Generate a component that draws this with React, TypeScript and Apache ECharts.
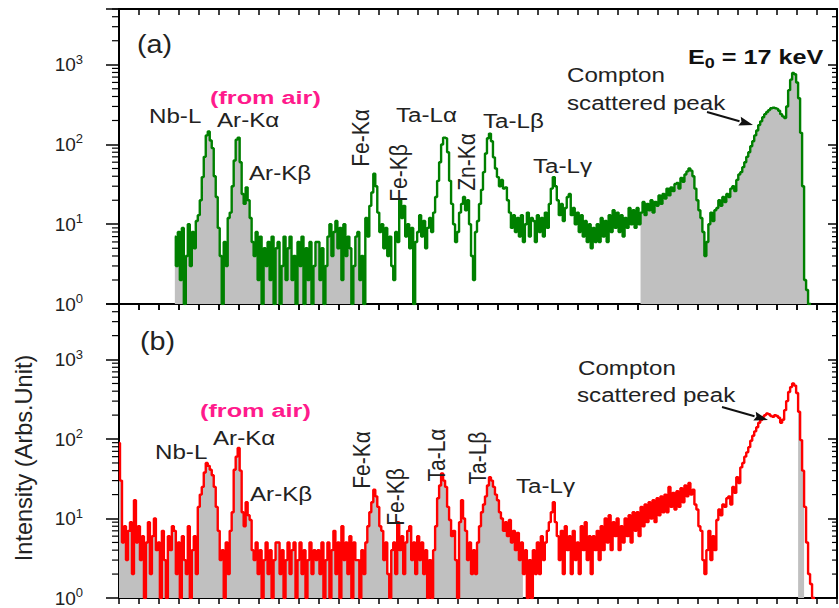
import React, { useEffect, useRef } from 'react';
import * as echarts from 'echarts';

// ---------- data (counts, 0.05 keV channels) ----------
const CHANNEL_KEV = 0.05;
const greenStartKeV = 1.4; // panel (a) spectrum starts here
const greenCounts = [
  7, 3, 8, 2, 9, 1, 4, 10, 3, 8, 5, 11,
  13, 20, 39, 70, 130, 146, 112, 90, 40, 22, 9, 4, 1, 6, 3, 12, 14, 30, 63, 115,
  122, 60, 24, 18, 29, 20, 12, 6, 4, 8, 2, 7, 1, 5, 3, 6, 2, 7, 1, 5,
  6, 1, 3, 7, 2, 5, 7, 2, 4, 1, 6, 3, 7, 1, 5, 2, 6, 1, 3, 6,
  6, 2, 5, 1, 3, 7, 10, 4, 8, 11, 5, 9, 2, 10, 4, 7, 5, 1, 3, 7,
  8, 2, 4, 1, 12, 7, 17, 25, 43, 30, 14, 8, 10, 5, 9, 4, 7, 3, 2, 8,
  6, 20, 12, 17, 7, 10, 5, 9, 1, 6, 8, 13, 7, 11, 5, 9, 12, 8, 14, 22,
  35, 60, 100, 122, 120, 80, 35, 18, 10, 6, 8, 14, 18, 22, 15, 20, 10, 4, 2, 8,
  11, 18, 27, 45, 77, 120, 137, 110, 69, 50, 39, 30, 36, 28, 29, 20, 14, 9, 13, 8,
  12, 7, 13, 6, 10, 14, 7, 12, 11, 6, 13, 8, 12, 7, 14, 9, 18, 28, 39, 30,
  20, 13, 18, 11, 16, 22, 24, 13, 16, 10, 14, 8, 13, 7, 11, 6, 10, 5, 9, 6,
  10, 6, 12, 7, 11, 6, 13, 8, 15, 9, 14, 8, 13, 7, 12, 9, 16, 10, 15, 9,
  16, 10, 14, 19, 13, 18, 15, 20, 14, 19, 17, 23, 18, 24, 21, 28, 23, 29, 26, 32,
  33, 28, 38, 34, 42, 46, 50, 47, 40, 28, 20, 15, 12, 8, 4, 6, 10, 14, 11, 15,
  16, 20, 17, 22, 19, 24, 22, 28, 30, 26, 36, 42, 45, 52, 60, 70, 80, 95, 110, 130,
  150, 175, 195, 220, 240, 255, 270, 285, 290, 285, 280, 265, 240, 225, 215, 300, 480, 650, 790, 760,
  600, 380, 140, 30, 2, 1.5, 1, 1,
];
// grey shading ranges (keV) under the green spectrum
const greyRangesA = [[1.4, 6.1], [13.1, 17.35]];

const redStartKeV = 0;
const redCounts = [
  89, 30, 5, 8, 3, 7, 9, 2, 17, 5, 8, 3, 6, 1, 5, 9, 2, 6, 10, 4,
  5, 1, 7, 3, 1, 6, 4, 8, 7, 2, 5, 1, 6, 3, 2, 8, 1, 4, 6, 2,
  14, 20, 25, 38, 50, 46, 41, 35, 25, 14, 7, 3, 4, 1, 5, 2, 7, 12, 41, 60,
  77, 40, 12, 8, 16, 11, 9.6, 4, 3, 5, 2, 4, 1, 3, 5, 2, 4, 1, 3, 5,
  5, 2, 4, 1, 3, 5, 2, 4, 5, 1, 3, 5, 2, 4, 1, 3, 5, 2, 4, 3,
  4, 2, 5, 1, 3, 5, 1, 4, 7, 2, 5, 1, 8, 3, 5, 2, 6, 1, 5, 3,
  3, 1, 4, 2, 5, 8, 12, 16, 23, 19, 14, 8, 7, 3, 5, 2, 1, 4, 5, 2,
  9, 4, 6, 2, 5, 7, 8, 3, 5, 2, 6, 3, 5, 2, 4, 1, 3, 1, 4, 8,
  18, 26, 37, 30, 25, 14, 9.6, 6, 7, 3, 1, 9, 17, 10, 7, 3, 5, 2, 4, 2,
  5, 8, 12, 15, 19, 26, 33, 30, 25, 20, 17, 12, 10, 7, 9, 6, 9.6, 5, 7, 4,
  6.6, 3, 5, 2, 4, 1, 3, 1, 4, 2, 5, 2, 6, 3, 5, 7, 9, 12, 16, 9,
  6, 3, 7, 2, 8, 4, 6, 2, 7, 3, 5, 2, 8, 4, 9, 3, 6, 2, 6, 4,
  7, 3, 8, 4, 10, 5, 11, 4, 9, 6, 10, 4, 8, 5, 10, 6, 11, 5, 12, 7,
  12, 6, 14, 8, 15, 9, 16, 10, 17, 9, 18, 11, 19, 12, 20, 12, 25, 14, 21, 13,
  22, 14, 24, 16, 26, 19, 28, 20, 23, 15, 13, 8, 7, 3, 2, 4, 7, 3, 6, 4,
  9.6, 13, 11, 15, 14, 18, 19, 15, 25, 21, 33, 28, 44, 50, 60, 68, 79, 95, 110, 125,
  141, 160, 173, 190, 200, 210, 205, 195, 190, 200, 195, 185, 160, 175, 231, 300, 390, 450, 500, 470,
  380, 220, 97, 40, 14, 5, 2, 1.5, 1, 1,
];
const greyRangesB = [[0, 10.1], [17.05, 17.15]];

const X_MIN = 0;
const X_MAX = 18;
const Y_MIN = 1;
const Y_MAX = 5000;
const yDecades = [1, 10, 100, 1000];

// ---------- helpers ----------
const FONT = '"Liberation Sans", Arial, Helvetica, sans-serif';
const keV = (start: number, i: number) => Math.round((start + i * CHANNEL_KEV) * 1000) / 1000;
const toPairs = (start: number, counts: number[]) => counts.map((c, i) => [keV(start, i), c]);
const maskPairs = (start: number, counts: number[], ranges: number[][]) =>
  counts.map((c, i) => {
    const e = keV(start, i);
    const inside = ranges.some(([a, b]) => e >= a - 1e-6 && e <= b + 1e-6);
    return [e, inside ? c : null];
  });
const minorTickValues = yDecades
  .flatMap((d) => [2, 3, 4, 5, 6, 7, 8, 9].map((k) => k * d))
  .filter((v) => v <= Y_MAX);

const yLabelFormatter = (v: number) => {
  const l = Math.log10(v);
  const e = Math.round(l);
  if (Math.abs(l - e) > 1e-6 || !yDecades.includes(Math.pow(10, e))) return '';
  return `{b|10}{s|${e}}`;
};

const mkX = (gridIndex: number, position: string, inside: boolean) => ({
  type: 'value',
  gridIndex,
  position,
  min: X_MIN,
  max: X_MAX,
  interval: 0.5,
  axisLine: { show: true, onZero: false, lineStyle: { color: '#000', width: 2 } },
  axisTick: { show: true, inside, length: 6, lineStyle: { color: '#000', width: 1.5 } },
  axisLabel: { show: false },
  splitLine: { show: false },
});

const mkY = (gridIndex: number, position: string) => ({
  type: 'log',
  logBase: 10,
  gridIndex,
  position,
  min: Y_MIN,
  max: Y_MAX,
  axisLine: { show: true, onZero: false, lineStyle: { color: '#000', width: 2 } },
  axisTick: {
    show: true,
    inside: position === 'right',
    length: position === 'right' ? 9 : 13,
    lineStyle: { color: '#000', width: 1.5 },
  },
  axisLabel:
    position === 'left'
      ? {
          show: true,
          margin: 36,
          formatter: yLabelFormatter,
          rich: {
            b: { fontSize: 19, fontFamily: FONT, color: '#222' },
            s: { fontSize: 13, fontFamily: FONT, color: '#222', padding: [0, 0, 11, 0] },
          },
        }
      : { show: false },
  splitLine: { show: false },
});

const minorTickSeries = (gridIdx: number) => ({
  type: 'custom',
  xAxisIndex: gridIdx * 2,
  yAxisIndex: gridIdx * 2,
  silent: true,
  clip: false,
  z: 10,
  data: minorTickValues.map((v) => [X_MIN, v]),
  renderItem: (_p: any, api: any) => {
    const v = api.value(1);
    const pL = api.coord([X_MIN, v]);
    const pR = api.coord([X_MAX, v]);
    return {
      type: 'group',
      children: [
        { type: 'line', shape: { x1: pL[0] - 7, y1: pL[1], x2: pL[0], y2: pL[1] }, style: { stroke: '#000', lineWidth: 1.2 } },
        { type: 'line', shape: { x1: pR[0] - 5, y1: pR[1], x2: pR[0], y2: pR[1] }, style: { stroke: '#000', lineWidth: 1.2 } },
      ],
    };
  },
});

const spectrumSeries = (gridIdx: number, start: number, counts: number[], ranges: number[][], color: string) => [
  {
    type: 'line',
    xAxisIndex: gridIdx * 2,
    yAxisIndex: gridIdx * 2,
    step: 'middle',
    symbol: 'none',
    silent: true,
    z: 2,
    lineStyle: { width: 0, color: '#c0c0c0' },
    areaStyle: { color: '#c0c0c0', opacity: 1, origin: 'start' },
    data: maskPairs(start, counts, ranges),
  },
  {
    type: 'line',
    xAxisIndex: gridIdx * 2,
    yAxisIndex: gridIdx * 2,
    step: 'middle',
    symbol: 'none',
    silent: true,
    z: 3,
    lineStyle: { width: 2.4, color },
    data: toPairs(start, counts),
  },
];

type LOpts = { rot?: boolean; size?: number; bold?: boolean; color?: string; stretch?: number };
const label = (text: string, x: number, y: number, o: LOpts = {}) => {
  const st = o.stretch || 1.15;
  return {
    type: 'text',
    x,
    y,
    z: 100,
    rotation: o.rot ? Math.PI / 2 : 0,
    scaleX: o.rot ? 1 : st,
    scaleY: o.rot ? st : 1,
    style: {
      text,
      fontSize: o.size || 21,
      fontFamily: FONT,
      fontWeight: o.bold ? 'bold' : 'normal',
      fill: o.color || '#222',
      align: o.rot ? 'center' : 'left',
      textAlign: o.rot ? 'center' : 'left',
      verticalAlign: 'middle',
      textVerticalAlign: 'middle',
    },
  };
};

const arrow = (x1: number, y1: number, x2: number, y2: number) => {
  const dx = x2 - x1;
  const dy = y2 - y1;
  const len = Math.hypot(dx, dy);
  const ux = dx / len;
  const uy = dy / len;
  const nx = -uy;
  const ny = ux;
  const bx = x2 - 14 * ux;
  const by = y2 - 14 * uy;
  return [
    { type: 'line', z: 100, shape: { x1, y1, x2: bx, y2: by }, style: { stroke: '#111', lineWidth: 2 } },
    {
      type: 'polygon',
      z: 100,
      shape: { points: [[x2, y2], [bx + 4.5 * nx, by + 4.5 * ny], [bx + 2 * ux, by + 2 * uy], [bx - 4.5 * nx, by - 4.5 * ny]] },
      style: { fill: '#111' },
    },
  ];
};

const MAGENTA = '#ff1a8c';

export default function App() {
  const ref = useRef<HTMLDivElement>(null);
  useEffect(() => {
    if (!ref.current) return;
    const chart = echarts.init(ref.current, null, { renderer: 'svg' });
    const option: any = {
      animation: false,
      backgroundColor: '#fff',
      grid: [
        { left: 119, top: 9, width: 718, height: 295 },
        { left: 119, top: 304, width: 718, height: 294 },
      ],
      xAxis: [mkX(0, 'bottom', false), mkX(0, 'top', true), mkX(1, 'bottom', false), mkX(1, 'top', true)],
      yAxis: [mkY(0, 'left'), mkY(0, 'right'), mkY(1, 'left'), mkY(1, 'right')],
      series: [
        ...spectrumSeries(0, greenStartKeV, greenCounts, greyRangesA, '#008000'),
        ...spectrumSeries(1, redStartKeV, redCounts, greyRangesB, '#ff0000'),
        minorTickSeries(0),
        minorTickSeries(1),
      ],
      graphic: [
        // y-axis name
        {
          type: 'text',
          x: 24,
          y: 458,
          rotation: Math.PI / 2,
          scaleX: 1.12,
          scaleY: 1.12,
          z: 100,
          style: {
            text: 'Intensity (Arbs.Unit)',
            fontSize: 21,
            fontFamily: FONT,
            fill: '#222',
            align: 'center',
            textAlign: 'center',
            verticalAlign: 'middle',
            textVerticalAlign: 'middle',
          },
        },
        // panel (a)
        label('(a)', 137, 45, { size: 25 }),
        label('(from air)', 210, 98, { size: 19, bold: true, color: MAGENTA, stretch: 1.33 }),
        label('Nb-L', 149, 116),
        label('Ar-K\u03b1', 217, 120),
        label('Ar-K\u03b2', 249, 173),
        label('Fe-K\u03b1', 361, 138, { rot: true }),
        label('Fe-K\u03b2', 399, 173, { rot: true }),
        label('Ta-L\u03b1', 396, 115),
        label('Zn-K\u03b1', 467, 162, { rot: true }),
        label('Ta-L\u03b2', 483, 121),
        label('Ta-L\u03b3', 533, 166),
        label('Compton', 567, 75),
        label('scattered peak', 567, 103),
        ...arrow(707, 112, 753, 125),
        {
          type: 'text',
          x: 688,
          y: 57,
          z: 100,
          scaleX: 1.2,
          style: {
            text: '{m|E}{s|0}{m| = 17 keV}',
            fontFamily: FONT,
            fill: '#111',
            align: 'left',
            textAlign: 'left',
            verticalAlign: 'middle',
            textVerticalAlign: 'middle',
            rich: {
              m: { fontSize: 21, fontWeight: 'bold', fontFamily: FONT, fill: '#111', color: '#111' },
              s: { fontSize: 15, fontWeight: 'bold', fontFamily: FONT, fill: '#111', color: '#111', padding: [12, 0, 0, 0] },
            },
          },
        },
        // panel (b)
        label('(b)', 140, 342, { size: 25 }),
        label('(from air)', 200, 411, { size: 19, bold: true, color: MAGENTA, stretch: 1.33 }),
        label('Nb-L', 155, 452),
        label('Ar-K\u03b1', 213, 438),
        label('Ar-K\u03b2', 250, 494),
        label('Fe-K\u03b1', 362, 460, { rot: true }),
        label('Fe-K\u03b2', 396, 497, { rot: true }),
        label('Ta-L\u03b1', 437, 455, { rot: true }),
        label('Ta-L\u03b2', 478, 458, { rot: true }),
        label('Ta-L\u03b3', 516, 486),
        label('Compton', 578, 368),
        label('scattered peak', 577, 395),
        ...arrow(722, 407, 768, 420),
      ],
    };
    chart.setOption(option);
    return () => chart.dispose();
  }, []);
  return <div ref={ref} style={{ position: 'fixed', left: 0, top: 0, width: 839, height: 608 }} />;
}
